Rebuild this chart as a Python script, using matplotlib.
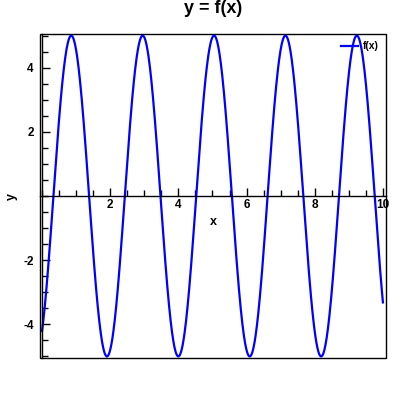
import matplotlib.pyplot as plt
import numpy as np
from matplotlib.patches import Rectangle
from matplotlib.ticker import MultipleLocator

plt.rcParams['font.family'] = ['Liberation Sans', 'DejaVu Sans']
plt.rcParams['axes.unicode_minus'] = False

# curve: amplitude, angular frequency, phase
amplitude = 5.0
omega = 3.0
phase = -1.0
x_start, x_end = 0.0, 10.0
x = np.linspace(x_start, x_end, 1000)
y = amplitude * np.sin(omega * x + phase)

fig = plt.figure(figsize=(4, 4), dpi=100)
ax = fig.add_axes([0.1, 0.105, 0.865, 0.81])

ax.plot(x, y, color='#0000ff', lw=1.6, label='f(x)')
ax.set_xlim(-0.06, 10.09)
ax.set_ylim(-5.05, 5.05)

# axes through the origin, plus a box frame
for s in ['top', 'right']:
    ax.spines[s].set_visible(False)
ax.spines['left'].set_position(('data', 0))
ax.spines['bottom'].set_position(('data', 0))
ax.spines['left'].set_linewidth(1.0)
ax.spines['bottom'].set_linewidth(1.0)
ax.add_patch(Rectangle((0, 0), 1, 1, transform=ax.transAxes, fill=False,
                       lw=1.0, ec='black', clip_on=False))

ax.xaxis.set_major_locator(MultipleLocator(2))
ax.xaxis.set_minor_locator(MultipleLocator(0.5))
ax.yaxis.set_major_locator(MultipleLocator(2))
ax.yaxis.set_minor_locator(MultipleLocator(0.5))
ax.tick_params(which='both', direction='in', width=1)
ax.tick_params(which='major', length=6, labelsize=8.5, pad=2)
ax.tick_params(which='minor', length=4)
ax.set_xticks([2, 4, 6, 8, 10])
ax.set_yticks([-4, -2, 2, 4])
for lab in ax.get_xticklabels() + ax.get_yticklabels():
    lab.set_fontweight('bold')
ax.tick_params(axis='y', pad=6)

fig.text(213 / 400, 1 - 222 / 400, 'x', ha='center', va='center',
         fontsize=9, fontweight='bold')
fig.text(12 / 400, 1 - 196 / 400, 'y', ha='center', va='center',
         fontsize=9, fontweight='bold', rotation=90)
fig.text(213 / 400, 1 - 13 / 400, 'y = f(x)', ha='center', va='baseline',
         fontsize=13, fontweight='bold')

leg = ax.legend(loc='upper right', frameon=False, fontsize=7.5,
                handlelength=1.6, borderaxespad=0.3, handletextpad=0.5)
for t in leg.get_texts():
    t.set_fontweight('bold')

fig.savefig('out.png')
